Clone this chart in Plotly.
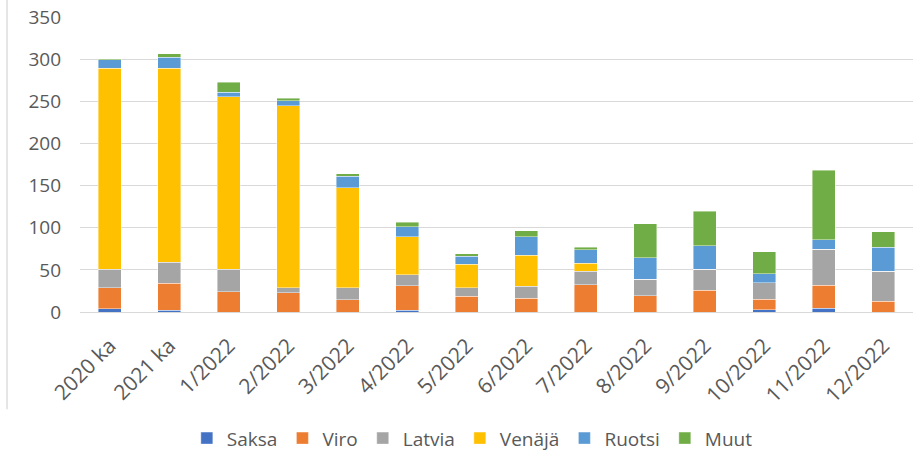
import plotly.graph_objects as go

categories = ["2020 ka", "2021 ka", "1/2022", "2/2022", "3/2022", "4/2022", "5/2022",
              "6/2022", "7/2022", "8/2022", "9/2022", "10/2022", "11/2022", "12/2022"]

saksa  = [4, 2, 0, 0, 0, 2, 0, 0, 0, 0, 0, 2.4, 4.7, 0]
viro   = [25, 32, 24, 23, 14.6, 29, 18.6, 16.6, 32.4, 19.4, 26.1, 13, 26.9, 13]
latvia = [22, 25, 26.5, 6, 14.3, 13, 10.3, 14.2, 15.8, 19.4, 24.5, 19.4, 42.7, 35.2]
venaja = [238, 230, 205, 216, 118.6, 45, 27.7, 36.4, 9.5, 0, 0, 0, 0, 0]
ruotsi = [10, 13, 5, 5.5, 13.8, 12, 9.5, 21.8, 16.2, 25.7, 28.1, 10.7, 11.5, 28.5]
muut   = [1.5, 4.5, 12, 3, 2.8, 5.6, 2.8, 7.5, 3.2, 40.3, 40.7, 26.1, 82.6, 18.6]

series = [
    ("Saksa", saksa, "#4472C4"),
    ("Viro", viro, "#ED7D31"),
    ("Latvia", latvia, "#A5A5A5"),
    ("Venäjä", venaja, "#FFC000"),
    ("Ruotsi", ruotsi, "#5B9BD5"),
    ("Muut", muut, "#70AD47"),
]

y_ticks = [0, 50, 100, 150, 200, 250, 300, 350]

fig = go.Figure()
for name, vals, color in series:
    fig.add_trace(go.Bar(
        x=categories, y=vals, name=name,
        marker=dict(color=color, line=dict(color="rgba(255,255,255,0.6)", width=0.7)),
    ))

font_family = "Open Sans"
text_color = "#595959"

fig.update_layout(
    barmode="stack",
    bargap=0.61,
    width=918, height=453,
    margin=dict(l=80, r=5, t=17, b=141, autoexpand=False),
    plot_bgcolor="white",
    paper_bgcolor="white",
    font=dict(family=font_family, size=19, color=text_color),
    showlegend=True,
    legend=dict(
        orientation="h",
        x=0.471, xanchor="center",
        y=-0.428, yanchor="middle",
        font=dict(size=19, color=text_color),
        itemwidth=30,
        traceorder="normal",
    ),
    xaxis=dict(
        tickangle=-45,
        showgrid=False,
        showline=True,
        linecolor="#D9D9D9",
        linewidth=1.3,
        automargin=False,
        ticklabelstandoff=12,
        tickfont=dict(size=21, color=text_color),
    ),
    yaxis=dict(
        range=[0, 350],
        tickvals=y_ticks,
        showgrid=True,
        gridcolor="#D9D9D9",
        gridwidth=1.3,
        zeroline=False,
        showline=False,
        automargin=False,
        ticklabelstandoff=18,
        tickfont=dict(size=19, color=text_color),
    ),
)

fig.add_shape(type="line", xref="paper", yref="paper",
              x0=-0.0876, x1=-0.0876, y0=-0.33, y1=1.06,
              line=dict(color="#D9D9D9", width=1.3))

fig.write_html("out.html", config={"displayModeBar": False},
               post_script="document.body.style.margin='0';")
